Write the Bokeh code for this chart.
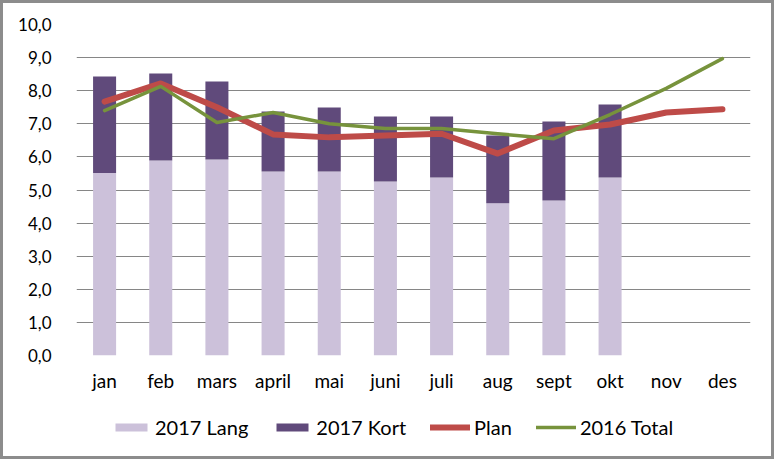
from bokeh.plotting import figure
from bokeh.layouts import column
from bokeh.models import FixedTicker, Legend, LegendItem, ColumnDataSource, Range1d
from bokeh.embed import file_html
from bokeh.resources import INLINE

months = ["jan", "feb", "mars", "april", "mai", "juni", "juli", "aug", "sept", "okt", "nov", "des"]
lang_2017 = [5.51, 5.89, 5.92, 5.56, 5.56, 5.26, 5.38, 4.60, 4.68, 5.38, 0, 0]
total_2017 = [8.43, 8.52, 8.28, 7.37, 7.49, 7.22, 7.22, 6.65, 7.07, 7.58, 0, 0]
kort_2017 = [t - l for t, l in zip(total_2017, lang_2017)]
plan = [7.67, 8.22, 7.50, 6.68, 6.59, 6.65, 6.70, 6.10, 6.80, 6.98, 7.34, 7.44]
total_2016 = [7.40, 8.13, 7.04, 7.34, 7.00, 6.86, 6.86, 6.70, 6.55, 7.28, 8.07, 8.97]
y_ticks = [0, 1, 2, 3, 4, 5, 6, 7, 8, 9, 10]
series_names = ["2017 Lang", "2017 Kort", "Plan", "2016 Total"]

FONT = "Lato"
C_LANG, C_KORT, C_PLAN, C_T16 = "#CCC1DA", "#604A7B", "#BE4B48", "#77933C"
BORDER = "3px solid #8c8c8c"

p = figure(x_range=months, y_range=(0, 10), width=774, height=400,
           output_backend="svg", toolbar_location=None,
           min_border_left=73, min_border_right=27, min_border_top=21, min_border_bottom=48)
p.styles = {"border-top": BORDER, "border-left": BORDER, "border-right": BORDER}
p.outline_line_color = None
p.x_range.range_padding = 0

src = ColumnDataSource(dict(m=months, lang=lang_2017, kort=kort_2017, plan=plan, t16=total_2016))
p.vbar_stack(["lang", "kort"], x="m", width=0.41, source=src,
             color=[C_LANG, C_KORT], line_color=None)
p.line("m", "plan", source=src, line_color=C_PLAN, line_width=6, line_join="round", line_cap="round")
p.line("m", "t16", source=src, line_color=C_T16, line_width=3.5, line_join="round", line_cap="round")

p.xgrid.grid_line_color = None
p.ygrid.grid_line_color = "#868686"
p.ygrid.grid_line_width = 1
p.yaxis.ticker = FixedTicker(ticks=y_ticks)
p.yaxis.major_label_overrides = {t: f"{t},0" for t in y_ticks}
for ax in (p.xaxis[0], p.yaxis[0]):
    ax.axis_line_color = None
    ax.major_tick_line_color = None
    ax.minor_tick_line_color = None
    ax.major_tick_out = 0
    ax.major_tick_in = 0
    ax.major_label_text_font = FONT
    ax.major_label_text_color = "#000000"
p.yaxis.major_label_text_font_size = "17px"
p.xaxis.major_label_text_font_size = "19px"
p.yaxis.major_label_standoff = 25
p.xaxis.major_label_standoff = 13

# Legend strip: separate figure (so the legend is not clipped by the chart frame).
# Its renderers use the same data but its y-range keeps them out of view.
lf = figure(x_range=months, y_range=Range1d(100, 101), width=774, height=59,
            output_backend="svg", toolbar_location=None,
            x_axis_location=None, y_axis_location=None,
            min_border_left=0, min_border_right=0, min_border_top=0, min_border_bottom=0)
lf.styles = {"border-left": BORDER, "border-right": BORDER, "border-bottom": BORDER}
lf.outline_line_color = None
lf.grid.grid_line_color = None
g_lang = lf.vbar(x="m", top="lang", width=0.41, source=src, color=C_LANG, line_color=None)
g_kort = lf.vbar(x="m", top="kort", width=0.41, source=src, color=C_KORT, line_color=None)
g_plan = lf.line("m", "plan", source=src, line_color=C_PLAN, line_width=6, line_cap="round")
g_t16 = lf.line("m", "t16", source=src, line_color=C_T16, line_width=3.5, line_cap="round")

legend = Legend(items=[LegendItem(label=n, renderers=[r]) for n, r in
                       zip(series_names, [g_lang, g_kort, g_plan, g_t16])],
                orientation="horizontal", location=(35, 20))
legend.border_line_color = None
legend.background_fill_alpha = 0
legend.padding = 0
legend.margin = 0
legend.spacing = 24
legend.label_standoff = 4
legend.glyph_width = 40
legend.glyph_height = 10
legend.label_text_font = FONT
legend.label_text_font_size = "20px"
legend.label_text_color = "#000000"
lf.add_layout(legend, "center")

layout = column(p, lf, spacing=0)
open("out.html", "w").write(file_html(layout, INLINE))
